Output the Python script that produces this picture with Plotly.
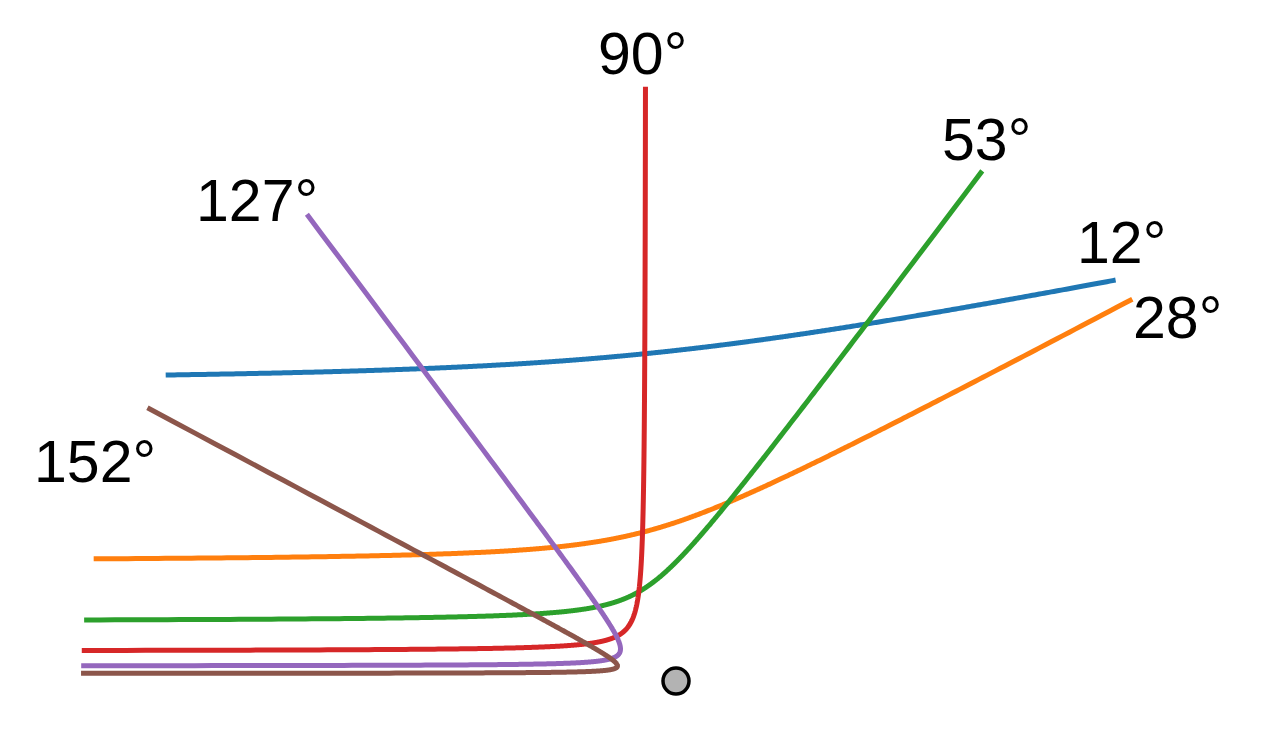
import numpy as np
import plotly.graph_objects as go

# Impact parameters (in units of the distance scale a) of the six trajectories
impact = [10.0, 4.0, 2.0, 1.0, 0.5, 0.25]
labels = ["12°", "28°", "53°", "90°", "127°", "152°"]
colors = ["#1f77b4", "#ff7f0e", "#2ca02c", "#d62728", "#9467bd", "#8c564b"]

# Label anchor positions (data units)
label_x = [14.96, 16.87, 10.44, -1.11, -14.08, -19.53]
label_y = [14.72, 12.20, 18.18, 21.08, 16.13, 7.36]

R_MAX = 20.0  # trajectories drawn out to this distance from the centre


def trajectory(b, rmax=R_MAX, n=700):
    th = 2 * np.arctan(1.0 / b)          # deflection angle
    e = np.sqrt(1 + b * b)               # eccentricity
    p = b * b                            # semi-latus rectum
    psi = np.pi / 2 + th / 2             # direction of closest approach
    delta = np.arccos((p / rmax + 1) / e)
    phi = np.linspace(psi + delta, psi - delta, n)
    r = p / (e * np.cos(phi - psi) - 1)
    return r * np.cos(phi), r * np.sin(phi)


fig = go.Figure()
for b, col in zip(impact, colors):
    x, y = trajectory(b)
    fig.add_trace(go.Scatter(x=x, y=y, mode="lines",
                             line=dict(color=col, width=5, simplify=False),
                             hoverinfo="skip", showlegend=False))

fig.add_trace(go.Scatter(x=[0], y=[0], mode="markers",
                         marker=dict(size=26, color="#b3b3b3",
                                     line=dict(color="black", width=3.5)),
                         hoverinfo="skip", showlegend=False))

for lx, ly, txt in zip(label_x, label_y, labels):
    fig.add_annotation(x=lx, y=ly, text=txt, showarrow=False,
                       xanchor="center", yanchor="middle",
                       font=dict(size=59, color="black", family="Liberation Sans, Arial, sans-serif"))

s = 29.75
ox, oy = 676.0, 681.0
fig.update_layout(
    width=1280, height=732,
    margin=dict(l=0, r=0, t=0, b=0),
    paper_bgcolor="white", plot_bgcolor="white",
    xaxis=dict(range=[-ox / s, (1280 - ox) / s], visible=False, fixedrange=True),
    yaxis=dict(range=[-(732 - oy) / s, oy / s], visible=False, fixedrange=True),
)

fig.write_html("out.html", config={"displayModeBar": False},
               post_script="document.body.style.margin='0px';document.body.style.overflow='hidden';")
